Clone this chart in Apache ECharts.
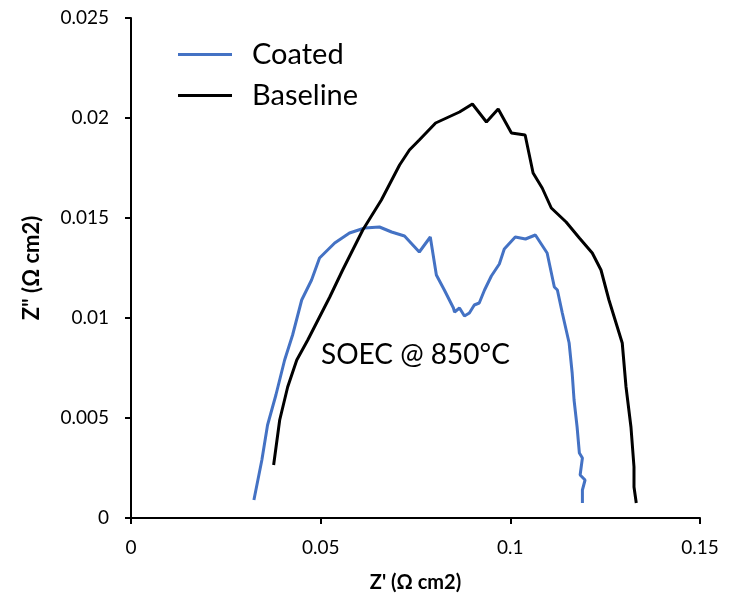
<!DOCTYPE html>
<html><head><meta charset="utf-8">
<script src="https://cdn.jsdelivr.net/npm/echarts@6/dist/echarts.min.js"></script>
<style>html,body{margin:0;padding:0;background:#fff}#c{width:730px;height:606px}</style>
</head><body><div id="c"></div>
<script>
const coatedX = [0.0324,0.0345,0.036,0.0382,0.0405,0.0426,0.045,0.0476,0.0497,0.0537,0.0576,0.0616,0.0655,0.0687,0.0721,0.076,0.0789,0.0805,0.0826,0.0850,0.0853,0.0866,0.0879,0.0892,0.0905,0.0918,0.0932,0.095,0.0971,0.0984,0.1013,0.104,0.1066,0.1097,0.1116,0.1124,0.1137,0.1155,0.1163,0.1168,0.1176,0.1182,0.119,0.1184,0.1197,0.119,0.119];
const coatedY = [0.0009,0.0029,0.00465,0.00615,0.0079,0.00915,0.0109,0.0119,0.013,0.01375,0.01425,0.0145,0.01455,0.0143,0.0141,0.0133,0.01405,0.01215,0.0114,0.0105,0.0103,0.0105,0.0101,0.01025,0.01065,0.01075,0.0114,0.0121,0.0127,0.01345,0.01405,0.01395,0.01415,0.01325,0.01155,0.0114,0.01025,0.00875,0.00725,0.0059,0.00455,0.00325,0.003,0.00215,0.0019,0.0014,0.00075];
const baseX = [0.0376,0.0392,0.0413,0.0437,0.0466,0.0497,0.0524,0.0558,0.0611,0.066,0.0708,0.0734,0.076,0.0803,0.0866,0.09,0.0937,0.0968,0.1003,0.1039,0.106,0.1084,0.1108,0.1147,0.1182,0.1216,0.1239,0.126,0.1295,0.1305,0.1318,0.1326,0.1326,0.1332];
const baseY = [0.00265,0.0049,0.00655,0.0079,0.0089,0.01005,0.01105,0.0124,0.0144,0.0159,0.01765,0.0184,0.0189,0.01975,0.0203,0.0207,0.0198,0.02045,0.01925,0.01915,0.01725,0.0165,0.0155,0.0148,0.014,0.01325,0.0124,0.0109,0.00875,0.00655,0.00455,0.00255,0.00155,0.00075];
const seriesNames = ['Coated','Baseline'];
const xTitle = "Z' (Ω cm2)";
const yTitle = 'Z" (Ω cm2)';
const note = 'SOEC @ 850°C';

const pair = (xs, ys) => xs.map((x, i) => [x, ys[i]]);
const font = 'Lato, "Open Sans", sans-serif';
const chart = echarts.init(document.getElementById('c'));
chart.setOption({
  animation: false,
  backgroundColor: '#fff',
  grid: {left: 131, right: 30, top: 18, bottom: 88},
  legend: {
    orient: 'vertical', left: 173, top: 35, itemGap: 12,
    itemWidth: 54, itemHeight: 3, icon: 'rect',
    textStyle: {fontSize: 29, fontFamily: font, color: '#000', padding: [0,0,9,15]},
    data: seriesNames
  },
  xAxis: {
    type: 'value', min: 0, max: 0.15, interval: 0.05,
    name: xTitle, nameLocation: 'middle', nameGap: 55,
    nameTextStyle: {fontSize: 20, fontWeight: 'bold', fontFamily: font, color: '#000'},
    axisLine: {show: true, lineStyle: {color: '#000', width: 2}},
    axisTick: {show: true, length: 6, lineStyle: {color: '#000', width: 2}},
    axisLabel: {fontSize: 19, fontFamily: font, color: '#000', margin: 20},
    splitLine: {show: false}
  },
  yAxis: {
    type: 'value', min: 0, max: 0.025, interval: 0.005,
    name: yTitle, nameLocation: 'middle', nameGap: 88,
    nameTextStyle: {fontSize: 22, fontWeight: 'bold', fontFamily: font, color: '#000'},
    axisLine: {show: true, lineStyle: {color: '#000', width: 2}},
    axisTick: {show: true, length: 6, lineStyle: {color: '#000', width: 2}},
    axisLabel: {fontSize: 19, fontFamily: font, color: '#000', margin: 22},
    splitLine: {show: false}
  },
  graphic: [{
    type: 'text', x: 321, y: 355,
    style: {text: note, fontSize: 28, fontFamily: font, fill: '#000', verticalAlign: 'middle'}
  }],
  series: [
    {name: seriesNames[0], type: 'line', data: pair(coatedX, coatedY), showSymbol: false,
     lineStyle: {color: '#4472C4', width: 3}, itemStyle: {color: '#4472C4'}},
    {name: seriesNames[1], type: 'line', data: pair(baseX, baseY), showSymbol: false,
     lineStyle: {color: '#000', width: 3}, itemStyle: {color: '#000'}}
  ]
});
</script></body></html>
